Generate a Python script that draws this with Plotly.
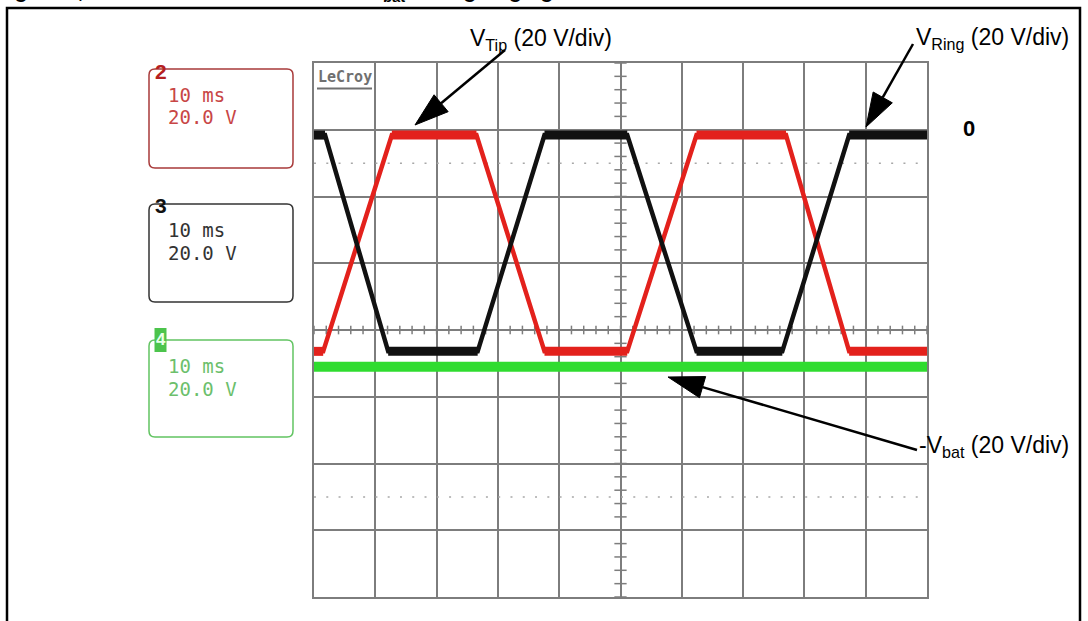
import plotly.graph_objects as go

# scope settings: 10 ms/div horizontally, 20 V/div vertically (0 V on the 2nd grid line)
ring_t = [0, 1.8, 12.1, 26.7, 37.6, 51.1, 62.4, 76.4, 87.3, 100]
ring_v = [-1.6, -1.6, -66.4, -66.4, -1.6, -1.6, -66.4, -66.4, -1.6, -1.6]

tip_t = [0, 1.5, 12.7, 26.5, 37.6, 51.1, 62.4, 77.0, 87.3, 100]
tip_v = [-66.4, -66.4, -1.6, -1.6, -66.4, -66.4, -1.6, -1.6, -66.4, -66.4]

vbat_t = [0, 100]
vbat_v = [-71.0, -71.0]

channels = ["2", "3", "4"]
timebase = ["10 ms", "10 ms", "10 ms"]
volts_div = ["20.0 V", "20.0 V", "20.0 V"]

W, H = 1088, 621
GRID = "#7d7d7d"
RED = "#e3211c"
BLACK = "#111111"
GREEN = "#2fdc2f"


def fx(x):
    return x / W


def fy(y):
    return 1 - y / H


def rrect(x0, y0, x1, y1, r):
    p = [
        ("M", [(x0 + r, y0)]), ("L", [(x1 - r, y0)]), ("Q", [(x1, y0), (x1, y0 + r)]),
        ("L", [(x1, y1 - r)]), ("Q", [(x1, y1), (x1 - r, y1)]), ("L", [(x0 + r, y1)]),
        ("Q", [(x0, y1), (x0, y1 - r)]), ("L", [(x0, y0 + r)]), ("Q", [(x0, y0), (x0 + r, y0)]),
    ]
    s = ""
    for cmd, pts in p:
        s += cmd + " ".join(f"{fx(a):.5f},{fy(b):.5f}" for a, b in pts) + " "
    return s + "Z"


def arrow(tail, tip, head_len=34, head_w=22):
    (sx, sy), (tx, ty) = tail, tip
    L = ((tx - sx) ** 2 + (ty - sy) ** 2) ** 0.5
    dx, dy = (tx - sx) / L, (ty - sy) / L
    bx, by = tx - dx * head_len, ty - dy * head_len
    nx, ny = -dy * head_w / 2, dx * head_w / 2
    line = dict(type="line", xref="paper", yref="paper",
                x0=fx(sx), y0=fy(sy), x1=fx(bx), y1=fy(by),
                line=dict(color="black", width=2.5))
    head = dict(type="path", xref="paper", yref="paper",
                path=f"M{fx(tx):.5f},{fy(ty):.5f} L{fx(bx + nx):.5f},{fy(by + ny):.5f} "
                     f"L{fx(bx - nx):.5f},{fy(by - ny):.5f} Z",
                fillcolor="black", line=dict(color="black", width=1))
    return [line, head]


def plateaus(t, v):
    xs, ys = [], []
    for i in range(len(t) - 1):
        if v[i] == v[i + 1]:
            xs += [t[i], t[i + 1], None]
            ys += [v[i], v[i + 1], None]
    return xs, ys


fig = go.Figure()

# small ticks on the centre cross of the graticule
tick_x, tick_y = [], []
for i in range(51):
    tick_x += [i * 2, i * 2, None]
    tick_y += [-61.3, -58.7, None]
for i in range(41):
    tick_x += [49.0, 51.0, None]
    tick_y += [-140 + i * 4, -140 + i * 4, None]
fig.add_trace(go.Scatter(x=tick_x, y=tick_y, mode="lines", line=dict(color=GRID, width=1.5),
                         hoverinfo="skip", showlegend=False))

# faint dotted rows
for lvl in (-10, -110):
    fig.add_trace(go.Scatter(x=[0, 100], y=[lvl, lvl], mode="lines",
                             line=dict(color="#a8a8a8", width=1.5, dash="2px,10.28px"),
                             hoverinfo="skip", showlegend=False))

for t, v, col in [(tip_t, tip_v, RED), (ring_t, ring_v, BLACK)]:
    fig.add_trace(go.Scatter(x=t, y=v, mode="lines", line=dict(color=col, width=4.5),
                             showlegend=False))
    px_, py_ = plateaus(t, v)
    fig.add_trace(go.Scatter(x=px_, y=py_, mode="lines", line=dict(color=col, width=9),
                             showlegend=False))

fig.add_trace(go.Scatter(x=vbat_t, y=vbat_v, mode="lines", line=dict(color=GREEN, width=10),
                         showlegend=False))

# channel markers around the graticule
fig.add_trace(go.Scatter(x=[-1.0], y=[1.6], mode="markers", cliponaxis=False,
                         marker=dict(symbol="triangle-right", size=9, color="#d42020"),
                         showlegend=False))
fig.add_trace(go.Scatter(x=[100.8, 100.8], y=[5.0, 1.3], mode="markers", cliponaxis=False,
                         marker=dict(symbol="square", size=7, color=["#55cc55", "#dd3322"],
                                     line=dict(color="#f0a040", width=1)),
                         showlegend=False))
fig.add_trace(go.Scatter(x=[10], y=[-141.5], mode="markers", cliponaxis=False,
                         marker=dict(symbol="triangle-up", size=6, color="#e05030"),
                         showlegend=False))

shapes = []
# outer frame
shapes.append(dict(type="rect", xref="paper", yref="paper", x0=fx(7), y0=fy(640), x1=fx(1080), y1=fy(8),
                   line=dict(color="black", width=2.5)))

# channel boxes
box_y = [(69, 168), (204, 302), (340, 437)]
box_col = ["#a83a3a", "#333333", "#62c462"]
txt_col = ["#c84646", "#333333", "#6cbf6c"]
for (y0, y1), c in zip(box_y, box_col):
    shapes.append(dict(type="path", xref="paper", yref="paper", path=rrect(149, y0, 293, y1, 6),
                       line=dict(color=c, width=1.5)))

# green tag behind channel 4 number
shapes.append(dict(type="rect", xref="paper", yref="paper", x0=fx(154.5), x1=fx(166.5), y0=fy(352), y1=fy(328),
                   fillcolor="#4cc44c", line=dict(width=0)))

# LeCroy underline
shapes.append(dict(type="line", xref="paper", yref="paper", x0=fx(317), x1=fx(372), y0=fy(88.5), y1=fy(88.5),
                   line=dict(color="#707070", width=2)))

shapes += arrow((505, 50), (415, 125))
shapes += arrow((913, 44), (866, 127))
shapes += arrow((917, 450), (668, 377), head_len=36, head_w=22)

ann = []


def text(x, y, s, size, color, family="Liberation Sans", xanchor="left", yanchor="middle"):
    ann.append(dict(x=fx(x), y=fy(y), xref="paper", yref="paper", text=s, showarrow=False,
                    xanchor=xanchor, yanchor=yanchor,
                    font=dict(size=size, color=color, family=family)))


mono = "DejaVu Sans Mono"
for i, (y0, y1) in enumerate(box_y):
    text(166, y0 + 26, timebase[i], 19, txt_col[i], mono)
    text(166, y0 + 48.5, volts_div[i], 19, txt_col[i], mono)

text(161, 72, "<b>" + channels[0] + "</b>", 21, "#b52020", xanchor="center")
text(161, 206, "<b>" + channels[1] + "</b>", 21, "#111111", xanchor="center")
text(160.5, 339, "<b>" + channels[2] + "</b>", 17, "#e8ffe8", xanchor="center")

text(316, 77, "<b>LeCroy</b>", 15, "#707070", mono)

text(468, 40, "V<sub>Tip</sub> (20 V/div)", 23, "black")
text(914, 38, "V<sub>Ring</sub> (20 V/div)", 23, "black")
text(917, 446, "-V<sub>bat</sub> (20 V/div)", 23, "black")
text(969, 128, "<b>0</b>", 22, "black", xanchor="center")

# figure caption, cut by the top of the picture
text(-6, 7, "<b>Figure 8, TIP and RING wires versus -V<sub>bat</sub> during ringing</b>", 21, "black",
     yanchor="bottom")

fig.update_layout(
    width=W,
    height=H,
    margin=dict(l=0, r=0, t=0, b=0),
    paper_bgcolor="white",
    plot_bgcolor="white",
    shapes=shapes,
    annotations=ann,
)
fig.update_xaxes(domain=[fx(314), fx(927)], range=[0, 100], dtick=10, tick0=0,
                 showgrid=True, gridcolor=GRID, gridwidth=1.5, zeroline=False,
                 showline=True, linecolor=GRID, linewidth=1.5, mirror=True,
                 showticklabels=False, ticks="")
fig.update_yaxes(domain=[fy(597), fy(63)], range=[-140, 20], dtick=20, tick0=0,
                 showgrid=True, gridcolor=GRID, gridwidth=1.5, zeroline=False,
                 showline=True, linecolor=GRID, linewidth=1.5, mirror=True,
                 showticklabels=False, ticks="")

fig.write_html("out.html", config={"displayModeBar": False},
               post_script="document.body.style.margin='0';document.body.style.overflow='hidden';")
